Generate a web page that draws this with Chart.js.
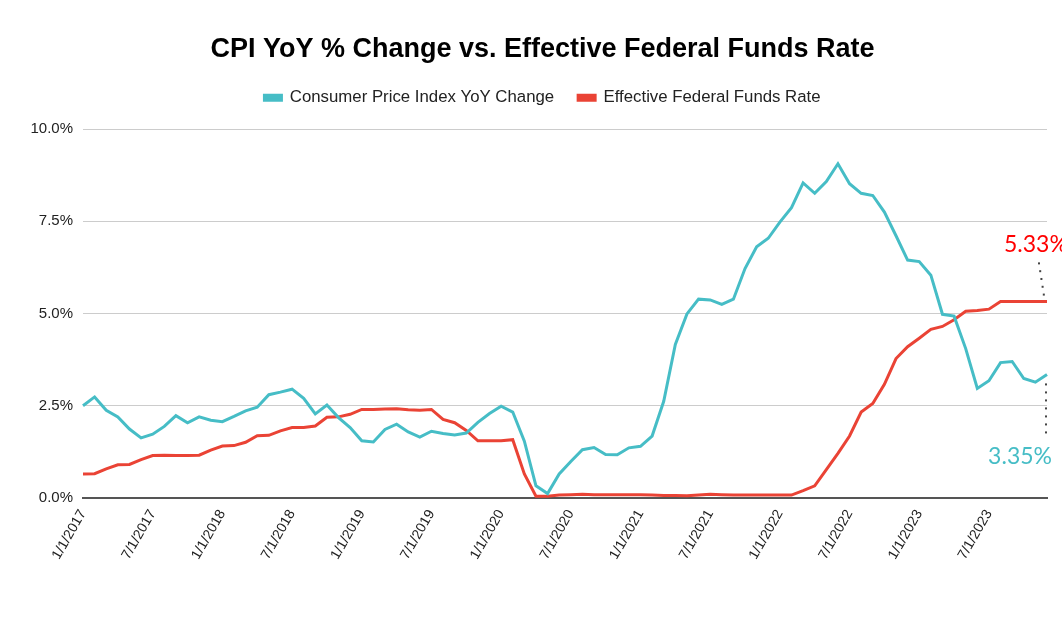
<!DOCTYPE html>
<html>
<head>
<meta charset="utf-8">
<script src="https://cdn.jsdelivr.net/npm/chart.js@4"></script>
<style>
  html, body { margin: 0; padding: 0; background: #fff; }
  #wrap { width: 1062px; height: 640px; position: relative; }
</style>
</head>
<body>
<div id="wrap"><canvas id="chart"></canvas></div>
<script>
// monthly, 1/1/2017 .. 12/1/2023
const months = [];
for (let y = 2017; y <= 2023; y++) {
    for (let m = 1; m <= 12; m++) months.push(m + '/1/' + y);
}

const cpiYoY = [
    2.50, 2.74, 2.38, 2.20, 1.87, 1.63, 1.73, 1.94, 2.23, 2.04, 2.20, 2.11,
    2.07, 2.21, 2.36, 2.46, 2.80, 2.87, 2.95, 2.70, 2.28, 2.52, 2.18, 1.91,
    1.55, 1.52, 1.86, 2.00, 1.79, 1.65, 1.81, 1.75, 1.71, 1.76, 2.05, 2.29,
    2.49, 2.33, 1.54, 0.33, 0.12, 0.65, 0.99, 1.31, 1.37, 1.18, 1.17, 1.36,
    1.40, 1.68, 2.62, 4.16, 4.99, 5.39, 5.37, 5.25, 5.39, 6.22, 6.81, 7.04,
    7.48, 7.87, 8.54, 8.26, 8.58, 9.06, 8.52, 8.26, 8.20, 7.75, 7.11, 6.45,
    6.41, 6.04, 4.98, 4.93, 4.05, 2.97, 3.18, 3.67, 3.70, 3.24, 3.14, 3.35
];

const fedFunds = [
    0.65, 0.66, 0.79, 0.90, 0.91, 1.04, 1.15, 1.16, 1.15, 1.15, 1.16, 1.30,
    1.41, 1.42, 1.51, 1.69, 1.70, 1.82, 1.91, 1.91, 1.95, 2.19, 2.20, 2.27,
    2.40, 2.40, 2.41, 2.42, 2.39, 2.38, 2.40, 2.13, 2.04, 1.83, 1.55, 1.55,
    1.55, 1.58, 0.65, 0.05, 0.05, 0.08, 0.09, 0.10, 0.09, 0.09, 0.09, 0.09,
    0.09, 0.08, 0.07, 0.07, 0.06, 0.08, 0.10, 0.09, 0.08, 0.08, 0.08, 0.08,
    0.08, 0.08, 0.20, 0.33, 0.77, 1.21, 1.68, 2.33, 2.56, 3.08, 3.78, 4.10,
    4.33, 4.57, 4.65, 4.83, 5.06, 5.08, 5.12, 5.33, 5.33, 5.33, 5.33, 5.33
];

const yTicks = [0, 2.5, 5, 7.5, 10];

const TEAL = '#46bdc6';
const RED = '#ea4335';
const FONT = "'Liberation Sans', Arial, sans-serif";

// end-of-series callouts: value text + dotted leader
const endLabels = {
    id: 'endLabels',
    afterLayout(chart) {
        // y tick labels get clipped to the axis box, let them run left
        chart.scales.y.left = 0;
    },
    afterDatasetsDraw(chart) {
        const ctx = chart.ctx;
        const last = months.length - 1;
        const pCpi = chart.getDatasetMeta(0).data[last];
        const pFed = chart.getDatasetMeta(1).data[last];

        ctx.save();
        ctx.fillStyle = '#444';
        // leader under the CPI point
        for (let i = 0; i < 7; i++) {
            ctx.fillRect(pCpi.x - 2, pCpi.y + 9 + i * 8, 2, 2);
        }
        // leader above the fed funds point (slight slant)
        for (let i = 0; i < 5; i++) {
            ctx.fillRect(pFed.x - 9 + i * 1.2, pFed.y - 39 + i * 7.8, 2, 2);
        }

        ctx.font = "23px Lato, 'Open Sans', sans-serif";
        ctx.textBaseline = 'alphabetic';
        ctx.fillStyle = TEAL;
        ctx.textAlign = 'right';
        ctx.fillText(cpiYoY[last].toFixed(2) + '%', pCpi.x + 5, pCpi.y + 90);
        ctx.fillStyle = '#ff0000';
        ctx.textAlign = 'left';
        ctx.fillText(fedFunds[last].toFixed(2) + '%', pFed.x - 43, pFed.y - 49);
        ctx.restore();
    }
};

new Chart(document.getElementById('chart'), {
    type: 'line',
    data: {
        labels: months,
        datasets: [
            {
                label: 'Consumer Price Index YoY Change',
                data: cpiYoY,
                borderColor: TEAL,
                backgroundColor: TEAL,
                borderWidth: 3,
                pointRadius: 0,
                tension: 0
            },
            {
                label: 'Effective Federal Funds Rate',
                data: fedFunds,
                borderColor: RED,
                backgroundColor: RED,
                borderWidth: 3,
                pointRadius: 0,
                tension: 0
            }
        ]
    },
    options: {
        responsive: true,
        maintainAspectRatio: false,
        animation: false,
        layout: { padding: { left: 38, right: 15, top: 0, bottom: 0 } },
        plugins: {
            title: {
                display: true,
                text: 'CPI YoY % Change vs. Effective Federal Funds Rate',
                color: '#000',
                font: { family: FONT, size: 27, weight: 'bold' },
                padding: { top: 33, bottom: 0 }
            },
            legend: {
                display: true,
                labels: {
                    color: '#222',
                    font: { family: FONT, size: 16.8 },
                    boxWidth: 17,
                    boxHeight: 5,
                    padding: 24
                }
            },
            tooltip: { enabled: false }
        },
        scales: {
            x: {
                grid: { display: false, drawTicks: false },
                border: { display: true, color: '#555', width: 2 },
                ticks: {
                    autoSkip: false,
                    minRotation: 60,
                    maxRotation: 60,
                    padding: 9,
                    color: '#222',
                    font: { family: FONT, size: 14 },
                    callback: function (val, i) {
                        return i % 6 === 0 ? months[i] : '';
                    }
                },
                afterFit: (scale) => {
                    scale.height = 142;
                    // last label is blank, no need to reserve room for it
                    scale.paddingLeft = 0;
                    scale.paddingRight = 0;
                }
            },
            y: {
                min: 0,
                max: 10.35,
                afterBuildTicks: (scale) => {
                    scale.ticks = yTicks.map(v => ({ value: v }));
                },
                grid: { color: '#cccccc', lineWidth: 1, drawTicks: false },
                border: { display: false },
                ticks: {
                    padding: 10,
                    color: '#222',
                    font: { family: FONT, size: 15 },
                    callback: (v) => v.toFixed(1) + '%'
                },
                afterFit: (scale) => { scale.width = 45; }
            }
        }
    },
    plugins: [endLabels]
});
</script>
</body>
</html>
